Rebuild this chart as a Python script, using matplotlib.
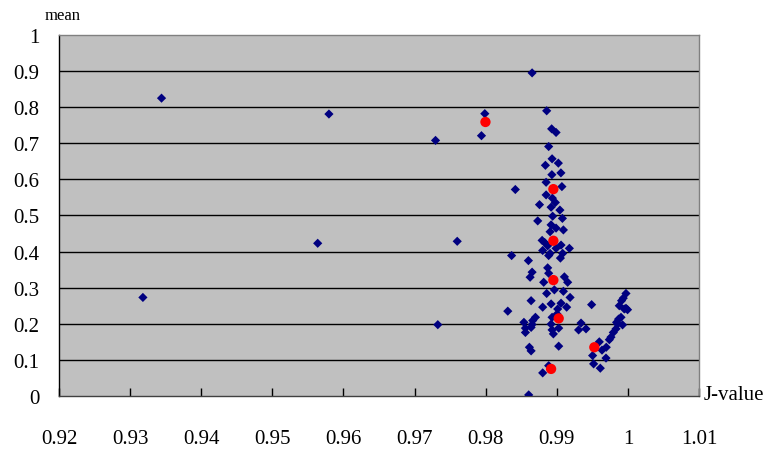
import matplotlib
matplotlib.use('Agg')
import matplotlib.pyplot as plt


# J-value / mean pairs (blue diamonds)
j_values = [
    0.93442, 0.95796, 0.97295, 0.95638, 0.97600, 0.93180, 0.97327,
    0.97988, 0.97941,
    0.98653, 0.98858, 0.98928, 0.98990, 0.98886, 0.98934, 0.99022, 0.98840,
    0.98931, 0.99058, 0.98850, 0.99072, 0.98850, 0.98938, 0.98980, 0.98757,
    0.98920, 0.99044, 0.98942, 0.99079, 0.98732, 0.98920, 0.98990, 0.99093,
    0.98906, 0.98794, 0.98830, 0.99060, 0.98872, 0.99177, 0.98990, 0.98802,
    0.98906, 0.99083, 0.98886, 0.99051, 0.98601, 0.98653, 0.98625, 0.98872,
    0.98886, 0.98816, 0.99107, 0.99153, 0.98966, 0.98858, 0.99093, 0.99187,
    0.98639, 0.98920, 0.99060, 0.98802, 0.99013, 0.99139, 0.99004, 0.98934,
    0.98700, 0.98538, 0.98653, 0.98559, 0.98920, 0.98934, 0.98952, 0.99027,
    0.98559, 0.98639, 0.98662, 0.98615, 0.98639, 0.99027, 0.98802, 0.98886,
    0.98605, 0.98311, 0.98365, 0.98417,
    0.99490, 0.99341, 0.99307, 0.99411, 0.99598, 0.99636, 0.99696, 0.99504,
    0.99692, 0.99518, 0.99612,
    0.99739, 0.99762, 0.99795, 0.99833, 0.99855, 0.99841, 0.99869, 0.99903,
    0.99925, 0.99949, 0.99973, 0.99995, 0.99879, 0.99911, 0.99935, 0.99973,
]
means = [
    0.825, 0.781, 0.708, 0.423, 0.4285, 0.273, 0.1975,
    0.782, 0.721,
    0.895, 0.790, 0.740, 0.730, 0.691, 0.657, 0.645, 0.639,
    0.613, 0.618, 0.592, 0.580, 0.557, 0.548, 0.536, 0.530,
    0.523, 0.515, 0.498, 0.492, 0.485, 0.474, 0.465, 0.460,
    0.455, 0.431, 0.425, 0.418, 0.416, 0.409, 0.409, 0.403,
    0.395, 0.395, 0.389, 0.382, 0.375, 0.343, 0.329, 0.355,
    0.340, 0.315, 0.330, 0.315, 0.294, 0.284, 0.290, 0.273,
    0.264, 0.255, 0.257, 0.246, 0.241, 0.246, 0.227, 0.218,
    0.218, 0.204, 0.198, 0.188, 0.199, 0.183, 0.172, 0.188,
    0.176, 0.190, 0.209, 0.135, 0.125, 0.138, 0.064, 0.084,
    0.003, 0.235, 0.389, 0.572,
    0.253, 0.202, 0.183, 0.186, 0.150, 0.127, 0.135, 0.112,
    0.105, 0.089, 0.077,
    0.156, 0.163, 0.176, 0.186, 0.199, 0.204, 0.213, 0.218,
    0.197, 0.241, 0.243, 0.239, 0.250, 0.264, 0.271, 0.284,
]

# highlighted points (red)
red_j = [0.97997, 0.98952, 0.98952, 0.98952, 0.99027, 0.99528, 0.98920]
red_mean = [0.759, 0.573, 0.430, 0.321, 0.215, 0.135, 0.075]

x_ticks = [0.92, 0.93, 0.94, 0.95, 0.96, 0.97, 0.98, 0.99, 1.00, 1.01]
x_labels = ['0.92', '0.93', '0.94', '0.95', '0.96', '0.97', '0.98', '0.99', '1', '1.01']
y_ticks = [0, 0.1, 0.2, 0.3, 0.4, 0.5, 0.6, 0.7, 0.8, 0.9, 1.0]
y_labels = ['0', '0.1', '0.2', '0.3', '0.4', '0.5', '0.6', '0.7', '0.8', '0.9', '1']


def main():
    plt.rcParams['font.family'] = ['Liberation Serif', 'DejaVu Serif']

    fig = plt.figure(figsize=(7.7, 4.52), dpi=100)
    ax = fig.add_axes([0.0766, 0.1217, 0.8312, 0.7987])
    ax.set_facecolor('#c0c0c0')

    for y in y_ticks[1:-1]:
        ax.axhline(y, color='black', lw=1.0, zorder=1)

    ax.scatter(j_values, means, marker='D', s=22, color='#000080',
               edgecolors='none', zorder=3)
    ax.scatter(red_j, red_mean, marker='o', s=55, color='#ff0000',
               edgecolors='none', zorder=4)

    ax.set_xlim(0.92, 1.01)
    ax.set_ylim(0, 1)
    ax.set_xticks(x_ticks)
    ax.set_xticklabels(x_labels, fontsize=15)
    ax.set_yticks(y_ticks)
    ax.set_yticklabels(y_labels, fontsize=15)
    ax.tick_params(axis='x', direction='in', length=6, width=1, pad=24)
    ax.tick_params(axis='y', direction='in', length=0, pad=14)

    ax.spines['left'].set_color('black')
    ax.spines['bottom'].set_color('#404040')
    ax.spines['top'].set_color('#808080')
    ax.spines['right'].set_color('#808080')
    for side in ['left', 'bottom', 'top', 'right']:
        ax.spines[side].set_linewidth(1.0)

    fig.text(0.058, 0.965, 'mean', fontsize=12, ha='left', va='center')
    fig.text(0.914, 0.124, 'J-value', fontsize=15, ha='left', va='center')

    fig.savefig('out.png', dpi=100)


if __name__ == '__main__':
    main()
